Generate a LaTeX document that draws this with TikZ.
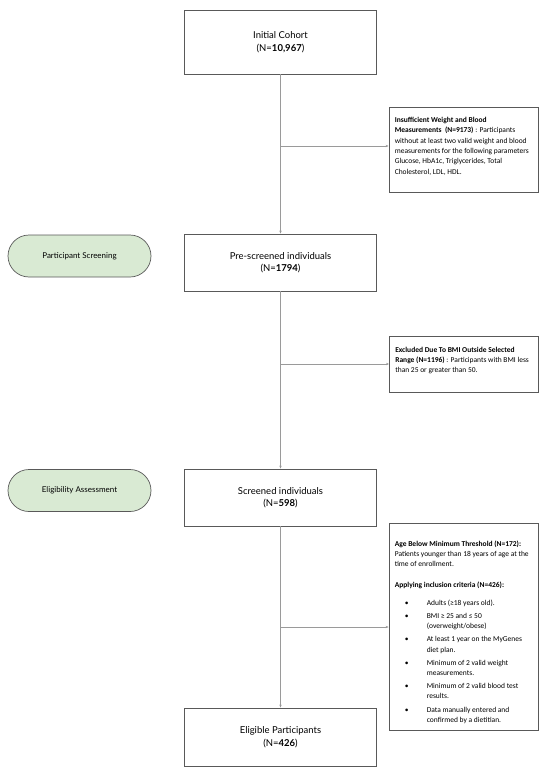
\documentclass[tikz,border=0pt]{standalone}
\usepackage{fontspec}
\setmainfont{Lato}
\newfontfamily\carlito{Carlito}
\usetikzlibrary{arrows.meta,calc}
\definecolor{boxline}{HTML}{595959}
\definecolor{connline}{HTML}{9A9A9A}
\definecolor{pillfill}{HTML}{D9EAD3}
\newcommand{\bitem}[1]{\hspace*{10pt}\makebox[22pt][l]{\textbullet}#1}
\newcommand{\bcont}[1]{\hspace*{32pt}#1}
\begin{document}
\begin{tikzpicture}[x=1pt,y=-1pt,
  mainbox/.style={draw=boxline,line width=0.8pt,fill=white,minimum width=192pt,align=center,
    font=\fontsize{9.5}{12.5}\selectfont,inner sep=2pt},
  pill/.style={draw=boxline,line width=0.7pt,fill=pillfill,rounded corners=21pt,minimum width=143pt,
    minimum height=42pt,font=\fontsize{8}{10}\selectfont,inner sep=2pt},
  sidebox/.style={draw=boxline,line width=0.8pt,fill=white,minimum width=149pt,inner sep=0pt},
  sidetext/.style={anchor=north west,align=left,inner sep=0pt,
    font=\carlito\fontsize{7.5}{10.3}\selectfont},
  conn/.style={draw=connline,line width=0.6pt},
  arr/.style={conn,-{Stealth[length=3pt,width=2.4pt]}}]
\useasboundingbox (0,0) rectangle (550,776);

% main boxes
\node[mainbox,minimum height=64pt] (b1) at (280.5,42) {Initial Cohort\\(N=\textbf{10,967})};
\node[mainbox,minimum height=57pt] (b2) at (280.5,262.5) {Pre-screened individuals\\(N=\textbf{1794})};
\node[mainbox,minimum height=57pt] (b3) at (280.5,497.5) {Screened individuals\\(N=\textbf{598})};
\node[mainbox,minimum height=58pt] (b4) at (280.5,737) {Eligible Participants\\(N=\textbf{426})};

% pills
\node[pill] (p1) at (79.5,256) {Participant Screening};
\node[pill] (p2) at (79.5,490.5) {Eligibility Assessment};

% side boxes
\node[sidebox,minimum height=85pt] (r1) at (463.5,149.5) {};
\node[sidetext] (r1t) at ($(r1.north west)+(6,10.5)$) {\textbf{Insufficient Weight and Blood}\\
\textbf{Measurements~~(N=9173)} : Participants\\
without at least two valid weight and blood\\
measurements for the following parameters\\
Glucose, HbA1c, Triglycerides, Total\\
Cholesterol, LDL, HDL.};

\node[sidebox,minimum height=56pt] (r2) at (464,364) {};
\node[sidetext] (r2t) at ($(r2.north west)+(6,11)$) {\textbf{Excluded Due To BMI Outside Selected}\\
\textbf{Range (N=1196)} : Participants with BMI less\\
than 25 or greater than 50.};

\node[sidebox,minimum height=207pt] (r3) at (463.5,626.5) {};
\node[sidetext] (r3t) at ($(r3.north west)+(6,18)$) {\textbf{Age Below Minimum Threshold (N=172):}\\
Patients younger than 18 years of age at the\\
time of enrollment.\\[10.3pt]
\textbf{Applying inclusion criteria (N=426):}\\[7.5pt]
\bitem{Adults (≥18 years old).}\\[2.8pt]
\bitem{BMI ≥ 25 and ≤ 50}\\
\bcont{(overweight/obese)}\\[2.8pt]
\bitem{At least 1 year on the MyGenes}\\
\bcont{diet plan.}\\[2.8pt]
\bitem{Minimum of 2 valid weight}\\
\bcont{measurements.}\\[2.8pt]
\bitem{Minimum of 2 valid blood test}\\
\bcont{results.}\\[2.8pt]
\bitem{Data manually entered and}\\
\bcont{confirmed by a dietitian.}};

% connectors
\coordinate (j1) at (280.5,146);
\coordinate (j2) at (280.5,364);
\coordinate (j3) at (280.5,627);
\draw[arr] (b1.south) -- (b2.north);
\draw[arr] (b2.south) -- (b3.north);
\draw[arr] (b3.south) -- (b4.north);
\draw[arr] (j1) -- (j1 -| r1.west);
\draw[arr] (j2) -- (j2 -| r2.west);
\draw[arr] (j3) -- (j3 -| r3.west);
\end{tikzpicture}
\end{document}
